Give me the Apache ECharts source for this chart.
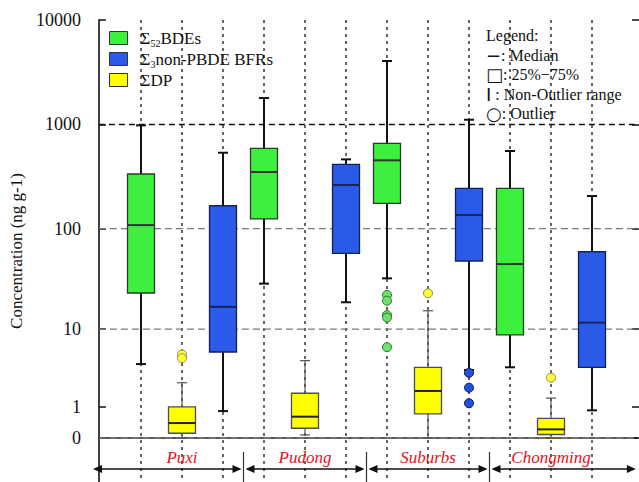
<!DOCTYPE html>
<html><head><meta charset="utf-8">
<script src="https://cdn.jsdelivr.net/npm/echarts@6/dist/echarts.min.js"></script>
<style>html,body{margin:0;padding:0;background:#fff}#c{width:639px;height:482px}</style>
</head><body><div id="c"></div>
<script>
// ---------------- data ----------------
const regions = ['Puxi', 'Pudong', 'Suburbs', 'Chongming'];
const compounds = ['Σ52BDEs', 'Σ3non-PBDE BFRs', 'ΣDP'];
// position of each compound inside a region group (BDE, BFR, DP)
const slotOrder = [0, 2, 1];
// [min, Q1, median, Q3, max] per region (ng g-1)
const bdeBoxes = [[4.1, 23.4, 108, 335, 980], [29, 124, 350, 591, 1793], [32.7, 175, 453, 660, 4050], [3.75, 8.7, 45.2, 244, 557]];
const bfrBoxes = [[0.81, 5.65, 17.0, 166, 536], [18.9, 57.5, 263, 415, 463], [3.47, 48.4, 135, 244, 1110], [0.84, 3.75, 11.7, 59.6, 206]];
const dpBoxes = [[0, 0.11, 0.39, 0.99, 2.38], [0.07, 0.24, 0.60, 1.68, 4.5], [0, 0.70, 1.82, 3.75, 15.5], [0, 0.08, 0.21, 0.54, 1.41]];
// outliers: [region index, value]
const bdeOutliers = [[2, 22.4], [2, 19.6], [2, 14.0], [2, 13.2], [2, 6.4]];
const bfrOutliers = [[2, 3.2], [2, 2.03], [2, 1.15]];
const dpOutliers = [[0, 5.3], [0, 4.8], [2, 23.3], [3, 2.78]];
const yTickValues = [0, 1, 10, 100, 1000, 10000];
const dashedLevels = [0, 10, 100, 1000];
const legendTitle = 'Legend:';
const legendSymbols = ['−', '□', 'I', '○'];
const legendTexts = [': Median', ': 25%−75%', ' : Non-Outlier range', ': Outlier'];

// ---------------- helpers ----------------
const tf = v => Math.log10(v + 1);
const SERIF = 'Liberation Serif';
const Y_MAX = tf(10000);
const Y_MIN = -0.421;
const slots = Array.from({length: 12}, (_, i) => 's' + i);

const styles = [
  {fill: '#3df03d', border: '#2b3a2b', median: '#333', whisker: '#111', ww: 2, out: '#6fe06f', outB: '#2a7a2a'},
  {fill: '#2a5ae8', border: '#15205a', median: '#1a2355', whisker: '#111', ww: 2, out: '#2450e0', outB: '#0c1860'},
  {fill: '#ffff00', border: '#4a4a6a', median: '#222', whisker: '#555', ww: 1.2, out: '#ffff33', outB: '#8a8a5a'}
];

function boxData(boxes, c) { return boxes.map((b, r) => [r * 3 + slotOrder[c]].concat(b.map(tf))); }
function outData(outs, c) { return outs.map(o => [o[0] * 3 + slotOrder[c], tf(o[1])]); }

function boxRender(st) {
  return function (params, api) {
    const i = api.value(0);
    const p = k => api.coord([i, api.value(k)]);
    const x = p(1)[0];
    const yLo = p(1)[1], yQ1 = p(2)[1], yMed = p(3)[1], yQ3 = p(4)[1], yHi = p(5)[1];
    const hw = 13.5, cw = 5;
    const ls = {stroke: st.whisker, lineWidth: st.ww};
    return {type: 'group', children: [
      {type: 'line', shape: {x1: x, y1: yHi, x2: x, y2: yLo}, style: ls},
      {type: 'line', shape: {x1: x - cw, y1: yHi, x2: x + cw, y2: yHi}, style: ls},
      {type: 'line', shape: {x1: x - cw, y1: yLo, x2: x + cw, y2: yLo}, style: ls},
      {type: 'rect', shape: {x: x - hw, y: yQ3, width: 2 * hw, height: yQ1 - yQ3}, style: {fill: st.fill, stroke: st.border, lineWidth: 1.3}},
      {type: 'line', shape: {x1: x - hw, y1: yMed, x2: x + hw, y2: yMed}, style: {stroke: st.median, lineWidth: 2}}
    ]};
  };
}

function legendFmt(name) {
  const m = name.match(/^Σ(\d*)(.*)$/);
  if (!m) return '{n|' + name + '}';
  return '{f|Σ}' + (m[1] ? '{s|' + m[1] + '}' : '') + '{n|' + m[2] + '}';
}

const boxSets = [bdeBoxes, bfrBoxes, dpBoxes];
const outSets = [bdeOutliers, bfrOutliers, dpOutliers];

const series = [];
// horizontal dashed reference lines on the full-width grid
series.push({
  type: 'custom', xAxisIndex: 0, yAxisIndex: 0, z: 1, silent: true,
  data: dashedLevels.map(v => [0, tf(v), v]),
  renderItem: function (params, api) {
    const cs = params.coordSys;
    const y = api.coord([0, api.value(1)])[1];
    const strong = api.value(2) === 1000;
    return {type: 'line', shape: {x1: cs.x, y1: y, x2: cs.x + cs.width, y2: y},
      style: {stroke: strong ? '#111' : '#7a7a7a', lineWidth: strong ? 1.6 : 1.3, lineDash: strong ? [6, 4] : [7, 4]}};
  }
});
boxSets.forEach((b, c) => {
  series.push({
    name: compounds[c], type: 'custom', xAxisIndex: 1, yAxisIndex: 2, z: 3,
    itemStyle: {color: styles[c].fill},
    encode: {x: 0, y: [1, 2, 3, 4, 5]},
    data: boxData(b, c), renderItem: boxRender(styles[c])
  });
});
outSets.forEach((o, c) => {
  series.push({
    type: 'scatter', xAxisIndex: 1, yAxisIndex: 2, z: 4, symbol: 'circle', symbolSize: 9,
    itemStyle: {color: styles[c].out, borderColor: styles[c].outB, borderWidth: 1, opacity: 1},
    data: outData(o, c)
  });
});
// region labels with double arrows
series.push({
  type: 'custom', xAxisIndex: 1, yAxisIndex: 2, z: 5, silent: true,
  data: regions.map((_, r) => [r]),
  renderItem: function (params, api) {
    const r = api.value(0);
    const cs = params.coordSys;
    const sx = k => api.coord([k, 0])[0];
    const w = sx(1) - sx(0);
    const n = regions.length;
    const center = sx(r * 3 + 1);
    const left = r === 0 ? sx(0) - 1.17 * w : (sx(r * 3 - 1) + sx(r * 3)) / 2;
    const right = r === n - 1 ? sx(n * 3 - 1) + 1.07 * w : (sx(r * 3 + 2) + sx(r * 3 + 3)) / 2;
    const bottom = cs.y + cs.height;
    const yA = bottom - 13;
    const g = 2, al = 9, ah = 4;
    const L = left + (r === 0 ? 0 : g), R = right - (r === n - 1 ? 0 : g);
    const children = [
      {type: 'line', shape: {x1: L + 2, y1: yA, x2: R - 2, y2: yA}, style: {stroke: '#111', lineWidth: 1.6}},
      {type: 'polygon', shape: {points: [[L, yA], [L + al, yA - ah], [L + al, yA + ah]]}, style: {fill: '#111'}},
      {type: 'polygon', shape: {points: [[R, yA], [R - al, yA - ah], [R - al, yA + ah]]}, style: {fill: '#111'}},
      {type: 'text', x: center, y: yA - 12, style: {text: regions[r], fill: '#e5121c', font: 'italic 17px Liberation Serif', align: 'center', verticalAlign: 'middle'}}
    ];
    if (r < n - 1) {
      children.push({type: 'line', shape: {x1: right, y1: yA - 17, x2: right, y2: bottom}, style: {stroke: '#333', lineWidth: 1.2}});
    }
    return {type: 'group', children: children};
  }
});

const legendRich = ['{b|' + legendTitle + '}']
  .concat(legendSymbols.map((s, i) => '{k|' + s + '}{b|' + legendTexts[i] + '}'))
  .join('\n');

const chart = echarts.init(document.getElementById('c'), null, {renderer: 'svg'});
chart.setOption({
  backgroundColor: '#fff',
  animation: false,
  textStyle: {fontFamily: SERIF, color: '#111'},
  grid: [
    {left: 92, right: -2, top: 20, bottom: 0},
    {left: 141, right: 47, top: 20, bottom: 0}
  ],
  xAxis: [
    {gridIndex: 0, type: 'value', min: 0, max: 1, position: 'top',
      axisLine: {show: true, lineStyle: {color: '#222', width: 1.6}}, axisTick: {show: false}, axisLabel: {show: false}, splitLine: {show: false}},
    {gridIndex: 1, type: 'category', data: slots, boundaryGap: false,
      axisLine: {show: false}, axisTick: {show: false}, axisLabel: {show: false},
      splitLine: {show: true, lineStyle: {color: '#333', width: 1.5, type: [3, 4]}}}
  ],
  yAxis: [
    {gridIndex: 0, type: 'value', min: Y_MIN, max: Y_MAX, position: 'left',
      name: 'Concentration (ng g-1)', nameLocation: 'middle', nameRotate: 90, nameGap: 64,
      nameTextStyle: {fontFamily: SERIF, fontSize: 17, color: '#111'},
      axisLine: {show: true, lineStyle: {color: '#111', width: 1.6}},
      axisTick: {show: true, inside: true, length: 7, customValues: yTickValues.map(tf), lineStyle: {color: '#111', width: 1.5}},
      axisLabel: {show: true, customValues: yTickValues.map(tf), margin: 18,
        fontFamily: SERIF, fontSize: 18, color: '#111',
        formatter: v => '{t|' + Math.round(Math.pow(10, v) - 1) + '}',
        rich: {t: {fontFamily: SERIF, fontSize: 18, color: '#111'}}},
      splitLine: {show: false}},
    {gridIndex: 0, type: 'value', min: Y_MIN, max: Y_MAX, position: 'right',
      axisLine: {show: false},
      axisTick: {show: true, inside: true, length: 7, customValues: yTickValues.map(tf), lineStyle: {color: '#111', width: 1.5}},
      axisLabel: {show: false}, splitLine: {show: false}},
    {gridIndex: 1, type: 'value', min: Y_MIN, max: Y_MAX, show: false}
  ],
  legend: {
    orient: 'vertical', left: 104, top: 23, itemWidth: 18, itemHeight: 13, itemGap: 1,
    selectedMode: false,
    data: compounds.map((n, c) => ({name: n, icon: 'rect', itemStyle: {color: styles[c].fill, borderColor: '#333', borderWidth: 1}})),
    formatter: legendFmt,
    textStyle: {
      color: '#111', fontFamily: SERIF, fontSize: 17, lineHeight: 20,
      rich: {
        f: {fontFamily: SERIF, fontSize: 17, color: '#111', lineHeight: 20, verticalAlign: 'middle', padding: [0, 0, 0, 8]},
        n: {fontFamily: SERIF, fontSize: 17, color: '#111', lineHeight: 20, verticalAlign: 'middle'},
        s: {fontFamily: SERIF, fontSize: 10, color: '#111', lineHeight: 10, verticalAlign: 'bottom'}
      }
    }
  },
  graphic: [
    {type: 'text', left: 486, top: 26, z: 10,
      style: {text: legendRich, font: '16px Liberation Serif', fill: '#111', lineHeight: 19.5,
        rich: {
          b: {fontFamily: SERIF, fontSize: 16, color: '#111', lineHeight: 19.5},
          k: {fontFamily: 'DejaVu Sans', fontSize: 18, color: '#111', lineHeight: 19.5}
        }}}
  ],
  series: series
});
</script>
</body></html>
